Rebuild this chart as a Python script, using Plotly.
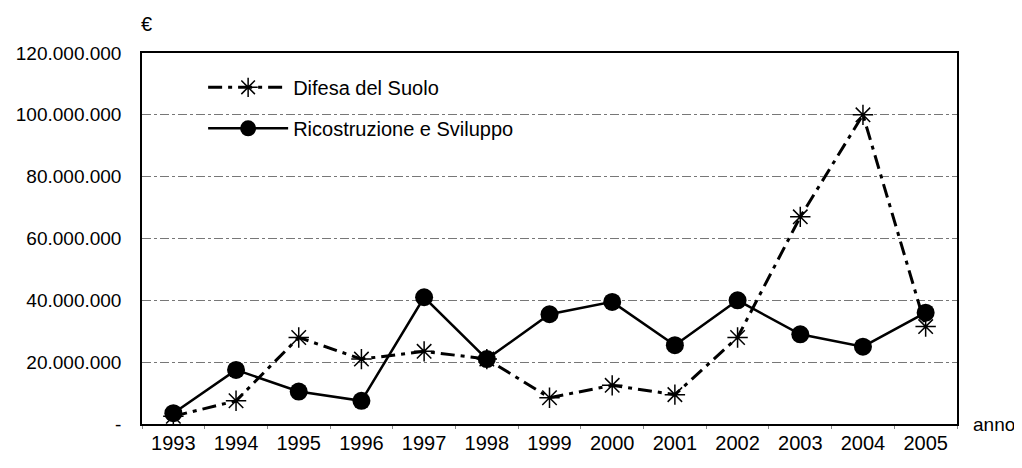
import plotly.graph_objects as go

anni = ["1993", "1994", "1995", "1996", "1997", "1998", "1999", "2000", "2001", "2002", "2003", "2004", "2005"]
difesa_suolo = [2.5e6, 7.5e6, 28e6, 21e6, 23.5e6, 21e6, 8.5e6, 12.5e6, 9.5e6, 28e6, 67e6, 100e6, 31.5e6]
ricostruzione = [3.5e6, 17.5e6, 10.5e6, 7.5e6, 41e6, 21e6, 35.5e6, 39.5e6, 25.5e6, 40e6, 29e6, 25e6, 36e6]
y_tickvals = [0, 20e6, 40e6, 60e6, 80e6, 100e6, 120e6]
y_ticktext = ["-", "20.000.000", "40.000.000", "60.000.000", "80.000.000", "100.000.000", "120.000.000"]

FONT = "Liberation Sans Narrow, Liberation Sans, Arial, sans-serif"

fig = go.Figure()
fig.add_trace(go.Scatter(
    x=anni, y=difesa_suolo, name="Difesa del Suolo", mode="lines+markers",
    legendgroup="a",
    line=dict(color="black", width=3, dash="14px,6px,4px,6px"),
    marker=dict(symbol="asterisk-open", size=17, color="black", line=dict(color="black", width=1.5)),
))
fig.add_trace(go.Scatter(
    x=anni, y=ricostruzione, name="Ricostruzione e Sviluppo", mode="lines+markers",
    legendgroup="b",
    line=dict(color="black", width=2.5),
    marker=dict(symbol="circle", size=18, color="black"),
))

fig.update_layout(
    width=1014, height=460,
    margin=dict(l=134, r=65, t=45, b=44, autoexpand=False),
    paper_bgcolor="white", plot_bgcolor="white",
    font=dict(family=FONT, size=20, color="black"),
    showlegend=True,
    legend=dict(x=0.075, y=0.96, xanchor="left", yanchor="top",
                bgcolor="rgba(0,0,0,0)", font=dict(size=20, family=FONT),
                itemwidth=80, tracegroupgap=12),
    xaxis=dict(type="category", range=[-0.5, 12.5], showgrid=False, automargin=False,
               showline=True, linecolor="black", linewidth=1.5, mirror=True,
               ticks="outside", tickson="boundaries", ticklen=3, tickcolor="#888888",
               tickfont=dict(size=20, family=FONT)),
    yaxis=dict(range=[0, 120e6], tickvals=y_tickvals, ticktext=y_ticktext, automargin=False,
               showgrid=True, gridcolor="#777777", gridwidth=1, griddash="dashdot",
               showline=True, linecolor="black", linewidth=1.5, mirror=True,
               ticks="", ticklen=0, ticklabelstandoff=15,
               tickfont=dict(size=19, family=FONT), zeroline=False),
)
fig.add_annotation(text="€", xref="paper", yref="paper", x=0.006, y=1.0, yshift=16,
                   showarrow=False, xanchor="center", yanchor="bottom", font=dict(size=20, family=FONT))
fig.add_annotation(text="anno", xref="paper", yref="paper", x=1.0, xshift=14, y=0.0,
                   showarrow=False, xanchor="left", yanchor="middle", font=dict(size=19, family=FONT))

fig.write_html("out.html")
